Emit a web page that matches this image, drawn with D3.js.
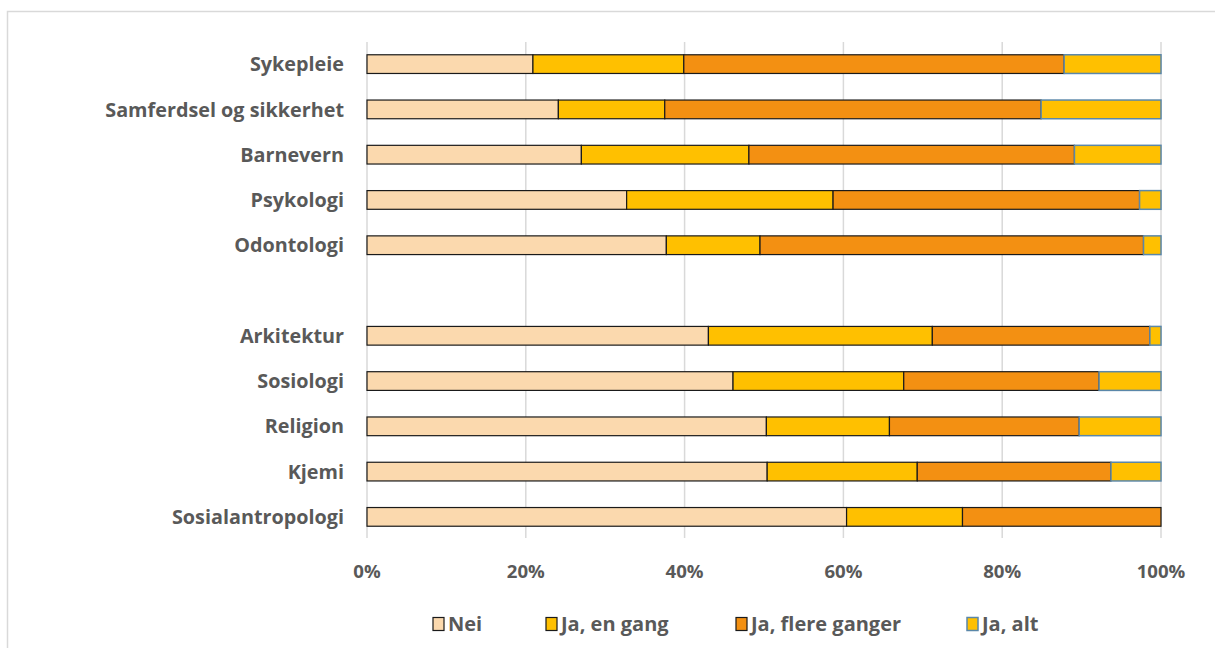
<!DOCTYPE html>
<html lang="no">
<head>
<meta charset="utf-8">
<title>Stacked bars</title>
<script src="https://d3js.org/d3.v7.min.js"></script>
<style>
  body { margin: 0; background: #fff; }
  text { font-family: "Open Sans", "Noto Sans", sans-serif; font-weight: bold; fill: #595959; }
</style>
</head>
<body>
<div id="chart"></div>
<script>
// data (shares, each row sums to 1)
var categories = ["Sykepleie", "Samferdsel og sikkerhet", "Barnevern", "Psykologi", "Odontologi", "",
                  "Arkitektur", "Sosiologi", "Religion", "Kjemi", "Sosialantropologi"];
var series = ["Nei", "Ja, en gang", "Ja, flere ganger", "Ja, alt"];
var nei     = [0.209, 0.241, 0.270, 0.327, 0.377, 0, 0.430, 0.461, 0.503, 0.504, 0.604];
var enGang  = [0.190, 0.134, 0.211, 0.260, 0.118, 0, 0.282, 0.215, 0.155, 0.189, 0.146];
var flere   = [0.479, 0.474, 0.410, 0.386, 0.483, 0, 0.274, 0.246, 0.239, 0.244, 0.250];
var alt     = [0.122, 0.151, 0.109, 0.027, 0.022, 0, 0.014, 0.078, 0.103, 0.063, 0.000];
var xTicks  = [0, 0.2, 0.4, 0.6, 0.8, 1];

var fills   = ["#FBD9AE", "#FFC000", "#F39012", "#FFC000"];
var strokes = ["#1a1a1a", "#1a1a1a", "#1a1a1a", "#5A87A9"];

var W = 1215, H = 648;
var svg = d3.select("#chart").append("svg").attr("width", W).attr("height", H);

// outer frame
svg.append("rect").attr("x", 7.5).attr("y", 11.5).attr("width", W).attr("height", H)
  .attr("fill", "none").attr("stroke", "#d9d9d9").attr("stroke-width", 1.5);

var x = d3.scaleLinear().domain([0, 1]).range([367, 1161]);
var y = d3.scaleBand().domain(d3.range(categories.length)).range([43, 538])
  .paddingInner(0.587).paddingOuter(0.26);

// gridlines
svg.append("g").selectAll("line").data(xTicks).join("line")
  .attr("x1", d => x(d)).attr("x2", d => x(d))
  .attr("y1", 42).attr("y2", 538)
  .attr("stroke", "#d9d9d9").attr("stroke-width", 1.5);

// x tick labels
svg.append("g").selectAll("text").data(xTicks).join("text")
  .attr("x", d => x(d)).attr("y", 578)
  .attr("text-anchor", "middle").style("font-size", "18.6px")
  .text(d3.format(".0%"));

// stack
var rows = categories.map(function (c, i) {
  return { cat: c, i: i, "Nei": nei[i], "Ja, en gang": enGang[i], "Ja, flere ganger": flere[i], "Ja, alt": alt[i] };
}).filter(d => d.cat !== "");
var stacked = d3.stack().keys(series)(rows);

svg.append("g").selectAll("g").data(stacked).join("g")
  .attr("fill", (d, k) => fills[k])
  .attr("stroke", (d, k) => strokes[k])
  .attr("stroke-width", (d, k) => k === 3 ? 1.5 : 1.2)
  .selectAll("rect").data(d => d.filter(p => p[1] - p[0] > 0)).join("rect")
  .attr("x", p => x(p[0]))
  .attr("width", p => x(p[1]) - x(p[0]))
  .attr("y", p => y(p.data.i))
  .attr("height", y.bandwidth());

// category labels
svg.append("g").selectAll("text").data(rows).join("text")
  .attr("x", 344).attr("y", d => y(d.i) + y.bandwidth() / 2)
  .attr("dy", "0.36em").attr("text-anchor", "end").style("font-size", "19.8px")
  .text(d => d.cat);

// legend
var legX = [433, 546, 736, 967];
var leg = svg.append("g").selectAll("g").data(series).join("g")
  .attr("transform", (d, k) => "translate(" + legX[k] + ",624)");
leg.append("rect").attr("x", 0).attr("y", -6.5).attr("width", 11).attr("height", 13)
  .attr("fill", (d, k) => fills[k]).attr("stroke", (d, k) => strokes[k])
  .attr("stroke-width", (d, k) => k === 3 ? 1.5 : 1.2);
leg.append("text").attr("x", 15).attr("dy", "0.36em").style("font-size", "20px")
  .text(d => d);
</script>
</body>
</html>
